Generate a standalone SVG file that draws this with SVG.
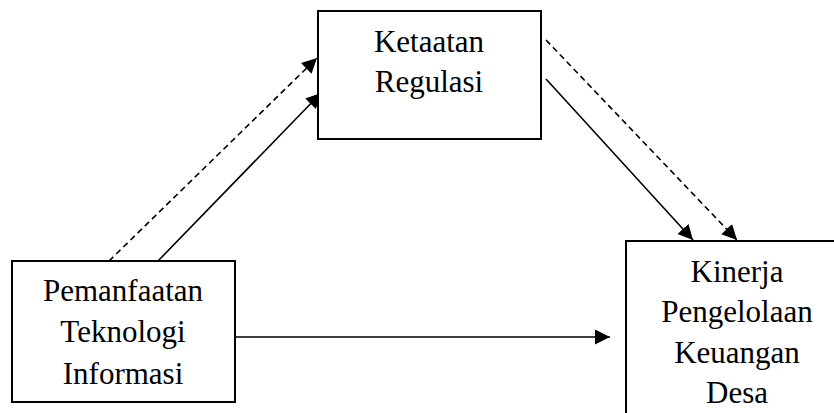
<svg xmlns="http://www.w3.org/2000/svg" width="834" height="413" viewBox="0 0 834 413">
<style>
.box{fill:#fff;stroke:#000;stroke-width:2}
.lbl{font-size:31px;fill:#000;text-anchor:middle}
.ln{stroke:#000;stroke-width:1.6;fill:none;marker-end:url(#ah)}
.dash{stroke-dasharray:6 4}
</style>
<defs>
<marker id="ah" markerUnits="userSpaceOnUse" markerWidth="15" markerHeight="15" refX="15" refY="7.5" orient="auto">
<path d="M0,0 L15,7.5 L0,15 z" fill="#000"/>
</marker>
</defs>
<rect width="834" height="413" fill="#fff"/>
<g id="connectors">
<line class="ln dash" x1="109" y1="261" x2="317" y2="58"/>
<line class="ln" x1="158" y1="261" x2="321" y2="93"/>
<line class="ln dash" x1="546" y1="40" x2="737" y2="240"/>
<line class="ln" x1="546" y1="79" x2="693" y2="240"/>
<line class="ln" x1="235" y1="337" x2="610" y2="337"/>
</g>
<g font-family="'Liberation Serif', 'Times New Roman', 'DejaVu Serif', serif">
<g id="node-ketaatan">
<rect class="box" x="318" y="11" width="223" height="128"/>
<text class="lbl" x="429" y="52">Ketaatan</text>
<text class="lbl" x="429" y="92">Regulasi</text>
</g>
<g id="node-pemanfaatan">
<rect class="box" x="12" y="261" width="223" height="141"/>
<text class="lbl" x="123" y="301">Pemanfaatan</text>
<text class="lbl" x="123" y="342">Teknologi</text>
<text class="lbl" x="123" y="384">Informasi</text>
</g>
<g id="node-kinerja">
<rect class="box" x="626" y="241" width="223" height="190"/>
<text class="lbl" x="737" y="282">Kinerja</text>
<text class="lbl" x="737" y="322">Pengelolaan</text>
<text class="lbl" x="737" y="363">Keuangan</text>
<text class="lbl" x="737" y="403">Desa</text>
</g>
</g>
</svg>
